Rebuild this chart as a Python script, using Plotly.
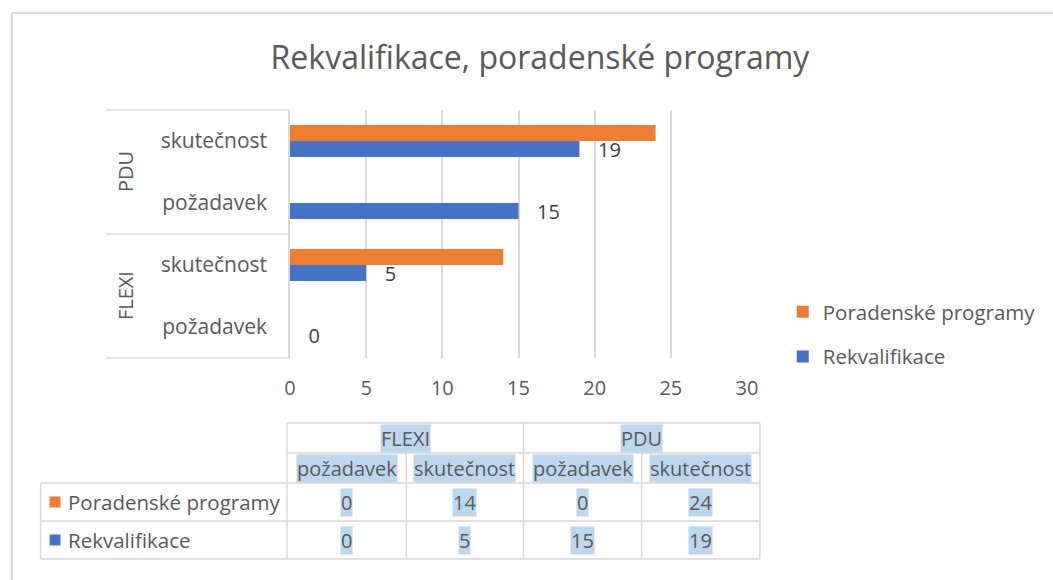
import plotly.graph_objects as go

# ---- data ----
groups = ["FLEXI", "FLEXI", "PDU", "PDU"]
subcats = ["požadavek", "skutečnost", "požadavek", "skutečnost"]
series_names = ["Poradenské programy", "Rekvalifikace"]
poradenske = [0, 14, 0, 24]
rekvalifikace = [0, 5, 15, 19]
x_ticks = [0, 5, 10, 15, 20, 25, 30]
title_text = "Rekvalifikace, poradenské programy"

ORANGE = "#ED7D31"
BLUE = "#4472C4"
TXT = "#595959"
GRID = "#D9D9D9"
HL = "#BDD7EE"
FONT = "Open Sans"

W, H = 1053, 580
X0, X1, Y0, Y1 = 290, 750, 110, 358


def px(x):
    return (x - X0) / (X1 - X0)


def py(y):
    return (Y1 - y) / (Y1 - Y0)


keys = [g + "|" + s for g, s in zip(groups, subcats)]

fig = go.Figure()
fig.add_trace(go.Bar(
    y=keys, x=rekvalifikace, orientation="h", name=series_names[1],
    marker=dict(color=BLUE, line=dict(width=0)), legendgroup="b", legendrank=2,
    text=rekvalifikace, texttemplate="\u00a0\u00a0\u00a0%{x}", textposition="outside",
    constraintext="none",
    textfont=dict(family=FONT, size=20, color="#404040"), cliponaxis=False,
))
fig.add_trace(go.Bar(
    y=keys, x=poradenske, orientation="h", name=series_names[0],
    marker=dict(color=ORANGE, line=dict(width=0)), legendgroup="a", legendrank=1,
))

shapes = []
ann = []


def line(x0, y0, x1, y1, color=GRID, w=1.5):
    shapes.append(dict(type="line", xref="paper", yref="paper",
                       x0=px(x0), y0=py(y0), x1=px(x1), y1=py(y1),
                       line=dict(color=color, width=w), layer="below"))


# chart border
line(10, 13, 1070, 13, "#D9D9D9", 2)
line(10, 13, 10, 600, "#D9D9D9", 2)

# category axis box
line(105, 110, 290, 110)
line(105, 234, 290, 234)
line(105, 358, 290, 358)

# group labels (rotated)
grp_order = []
for g in groups:
    if g not in grp_order:
        grp_order.append(g)
grp_centers = {"FLEXI": 296, "PDU": 172}
for g in grp_order:
    ann.append(dict(text=g, xref="paper", yref="paper", x=px(124), y=py(grp_centers[g]),
                    textangle=-90, showarrow=False, xanchor="center", yanchor="middle",
                    font=dict(family=FONT, size=20, color=TXT)))

# ---- data table ----
col_edges = [287, 407, 525, 644, 763]
hdr_top, hdr_mid, hdr_bot, r1, r2 = 423, 453, 483, 521, 559
line(287, hdr_top, 763, hdr_top)
line(287, hdr_mid, 763, hdr_mid)
for yy in (hdr_bot, r1, r2):
    line(39, yy, 763, yy)
line(287, hdr_top, 287, r2)
line(525, hdr_top, 525, r2)
line(763, hdr_top, 763, r2)
line(407, hdr_mid, 407, r2)
line(644, hdr_mid, 644, r2)
line(39, hdr_bot, 39, r2)


def cell_text(t, xc, yc, hl=True, anchor="center", size=20):
    d = dict(text=str(t), xref="paper", yref="paper", x=px(xc), y=py(yc),
             showarrow=False, xanchor=anchor, yanchor="middle",
             font=dict(family=FONT, size=size, color=TXT), borderpad=0)
    if hl:
        d["bgcolor"] = HL
    ann.append(d)


# group header
ann_groups = {"FLEXI": (287 + 525) / 2, "PDU": (525 + 763) / 2}
for g in grp_order:
    cell_text(g, ann_groups[g], (hdr_top + hdr_mid) / 2)
centers = [(col_edges[i] + col_edges[i + 1]) / 2 for i in range(4)]
for i, s in enumerate(subcats):
    cell_text(s, centers[i], (hdr_mid + hdr_bot) / 2)
for i, v in enumerate(poradenske):
    cell_text(v, centers[i], (hdr_bot + r1) / 2)
for i, v in enumerate(rekvalifikace):
    cell_text(v, centers[i], (r1 + r2) / 2)

# row labels with keys
for name, col, (ya, yb) in [(series_names[0], ORANGE, (hdr_bot, r1)),
                            (series_names[1], BLUE, (r1, r2))]:
    yc = (ya + yb) / 2
    shapes.append(dict(type="rect", xref="paper", yref="paper",
                       x0=px(48), x1=px(59), y0=py(yc - 5.5), y1=py(yc + 5.5),
                       fillcolor=col, line=dict(width=0)))
    cell_text(name, 66, yc, hl=False, anchor="left", size=20.5)

fig.update_layout(
    width=W, height=H, autosize=False,
    margin=dict(l=X0, r=W - X1, t=Y0, b=H - Y1),
    paper_bgcolor="white", plot_bgcolor="white",
    barmode="group", bargap=0.48, bargroupgap=0,
    title=dict(text=title_text, x=540 / W, xanchor="center", y=1 - 58 / H, yanchor="middle",
               font=dict(family=FONT, size=32, color=TXT)),
    xaxis=dict(range=[0, 30], tickvals=x_ticks, showgrid=True, gridcolor=GRID, gridwidth=1.5,
               zeroline=False, showline=False, ticks="",
               tickfont=dict(family=FONT, size=20, color=TXT), ticklabelstandoff=16),
    yaxis=dict(type="category", categoryorder="array", categoryarray=keys,
               tickvals=keys, ticktext=subcats, showgrid=False, zeroline=False,
               showline=True, linecolor=GRID, linewidth=1.5, ticks="",
               tickfont=dict(family=FONT, size=21, color=TXT), ticklabelstandoff=17),
    legend=dict(x=px(786), y=py(292), xanchor="left", yanchor="top",
                traceorder="grouped", tracegroupgap=15,
                font=dict(family=FONT, size=20.5, color=TXT), bgcolor="rgba(0,0,0,0)"),
    shapes=shapes, annotations=ann,
)

fig.write_html("out.html", config={"displayModeBar": False},
               post_script="document.body.style.margin='0';document.body.style.overflow='hidden';")
